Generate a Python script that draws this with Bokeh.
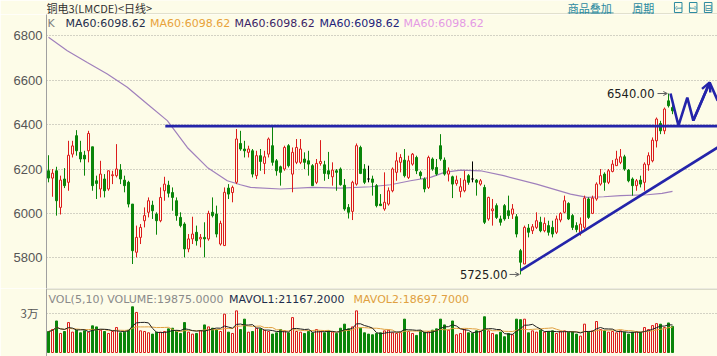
import numpy as np
import pandas as pd
from bokeh.plotting import figure
from bokeh.layouts import column
from bokeh.models import Label, Arrow, OpenHead, FixedTicker, ColumnDataSource
from bokeh.embed import file_html
from bokeh.resources import INLINE

# ---------------- data ----------------
opens = [6192, 6159, 6192, 6027, 6155, 6140, 6267, 6350, 6275, 6262,
         6282, 6300, 6147, 6110, 6155, 6110, 6170, 6170, 6196, 6150,
         6140, 6042, 5825, 5892, 5967, 6005, 6037, 5997, 5967, 6102,
         6127, 6094, 6057, 5982, 5952, 5840, 5885, 5915, 5885, 5892,
         5885, 6005, 5997, 5862, 5855, 6114, 6094, 6140, 6315, 6290,
         6275, 6282, 6170, 6260, 6225, 6267, 6305, 6237, 6210, 6200,
         6305, 6177, 6230, 6230, 6245, 6237, 6215, 6140, 6225, 6219,
         6192, 6165, 6192, 6200, 6127, 6027, 6009, 6132, 6297, 6200,
         6155, 6155, 6125, 6042, 6020, 6042, 6102, 6185, 6230, 6240,
         6162, 6222, 6252, 6185, 6155, 6117, 6245, 6207, 6305, 6240,
         6177, 6165, 6135, 6099, 6102, 6170, 6155, 6150, 6132, 6117,
         5975, 6012, 6035, 5975, 6035, 6012, 5997, 5985, 5832, 5772,
         5934, 5922, 5937, 5960, 5922, 5945, 5937, 5915, 5970, 6005,
         6045, 5990, 5945, 5915, 5937, 6065, 6000, 6065, 6132, 6177,
         6140, 6189, 6215, 6230, 6255, 6195, 6155, 6125, 6150, 6140,
         6219, 6237, 6327, 6405, 6372, 6507, 6477]
closes = [6159, 6181, 6057, 6150, 6125, 6262, 6304, 6282, 6245, 6245,
          6360, 6125, 6135, 6177, 6102, 6192, 6174, 6200, 6155, 6125,
          6042, 5832, 5892, 5937, 5990, 6057, 6012, 5967, 6072, 6132,
          6091, 6072, 5990, 5945, 5840, 5885, 5907, 5877, 5892, 5885,
          6000, 5990, 5907, 5955, 6095, 6087, 6117, 6335, 6290, 6282,
          6290, 6177, 6260, 6234, 6255, 6335, 6230, 6192, 6185, 6297,
          6215, 6275, 6297, 6290, 6230, 6222, 6125, 6225, 6234, 6180,
          6177, 6195, 6185, 6129, 6020, 6005, 6140, 6305, 6180, 6140,
          6155, 6140, 6035, 6035, 6050, 6102, 6200, 6237, 6252, 6170,
          6237, 6267, 6192, 6170, 6110, 6252, 6200, 6177, 6245, 6177,
          6192, 6132, 6150, 6120, 6150, 6140, 6155, 6140, 6147, 5960,
          6072, 6020, 5982, 5960, 5975, 5990, 6020, 5907, 5780, 5937,
          5915, 5940, 5967, 5922, 5955, 5915, 5907, 5975, 6000, 6057,
          5975, 5937, 5927, 5952, 6069, 5982, 6069, 6132, 6170, 6140,
          6192, 6222, 6245, 6255, 6200, 6147, 6125, 6147, 6132, 6222,
          6260, 6330, 6425, 6372, 6470, 6485, 6462]
highs = [6262, 6200, 6210, 6170, 6204, 6327, 6327, 6375, 6327, 6282,
         6372, 6300, 6170, 6237, 6177, 6192, 6192, 6312, 6222, 6170,
         6147, 6042, 5945, 5952, 6027, 6072, 6057, 6005, 6117, 6165,
         6147, 6117, 6072, 6005, 5960, 5907, 5985, 5945, 5907, 5960,
         6012, 6072, 6035, 5967, 6117, 6132, 6125, 6380, 6372, 6327,
         6305, 6290, 6282, 6290, 6282, 6342, 6395, 6245, 6215, 6305,
         6312, 6297, 6335, 6335, 6275, 6282, 6222, 6245, 6330, 6237,
         6277, 6230, 6200, 6207, 6155, 6042, 6147, 6315, 6305, 6222,
         6215, 6170, 6132, 6087, 6185, 6117, 6207, 6275, 6267, 6290,
         6260, 6272, 6260, 6192, 6162, 6260, 6252, 6245, 6357, 6252,
         6207, 6170, 6170, 6159, 6192, 6177, 6234, 6155, 6155, 6129,
         6075, 6065, 6045, 5990, 6042, 6080, 6042, 5997, 5840, 5945,
         5952, 5952, 6005, 5985, 5982, 5967, 5967, 5990, 6005, 6080,
         6050, 5997, 5960, 5982, 6080, 6072, 6080, 6140, 6200, 6185,
         6200, 6240, 6282, 6290, 6264, 6200, 6162, 6155, 6170, 6230,
         6275, 6342, 6432, 6417, 6477, 6540, 6492]
lows = [6140, 6075, 5990, 5995, 6114, 6102, 6252, 6260, 6230, 6170,
        6230, 6102, 6065, 6072, 6072, 6102, 6132, 6162, 6132, 6095,
        6027, 5772, 5802, 5862, 5937, 5982, 5975, 5904, 5960, 6057,
        6072, 6012, 5967, 5937, 5802, 5825, 5862, 5855, 5847, 5802,
        5877, 5982, 5892, 5855, 5855, 6065, 6050, 6132, 6282, 6252,
        6252, 6162, 6155, 6192, 6177, 6252, 6215, 6170, 6125, 6192,
        6207, 6095, 6222, 6222, 6200, 6170, 6125, 6132, 6215, 6147,
        6155, 6125, 6102, 6125, 6012, 5977, 5970, 6125, 6177, 6132,
        6140, 6080, 6027, 6035, 6012, 6035, 6095, 6147, 6185, 6162,
        6155, 6215, 6177, 6155, 6095, 6110, 6192, 6170, 6237, 6170,
        6144, 6069, 6125, 6072, 6095, 6129, 6140, 6080, 6125, 5952,
        5967, 5945, 5975, 5945, 5967, 5975, 5975, 5892, 5725, 5772,
        5892, 5907, 5930, 5915, 5915, 5900, 5892, 5907, 5960, 6000,
        5970, 5925, 5915, 5900, 5930, 5975, 5997, 6057, 6125, 6102,
        6132, 6185, 6215, 6222, 6192, 6140, 6080, 6102, 6117, 6102,
        6192, 6230, 6297, 6357, 6357, 6477, 6447]
volumes = [16000, 17500, 24000, 14500, 16000, 22800, 15500, 17000, 15000, 16500,
           15500, 20300, 19500, 17000, 16000, 14500, 16000, 19000, 15000, 15500,
           17000, 34800, 30500, 16500, 16000, 15000, 14000, 15500, 15500, 16000,
           18000, 18500, 16500, 14500, 22800, 15500, 14000, 14500, 16500, 21000,
           19500, 18500, 17500, 16000, 29200, 15500, 14500, 31700, 17500, 25400,
           15500, 16000, 18500, 18000, 17000, 16000, 14000, 15000, 17500, 16500,
           15000, 26600, 16000, 15500, 14500, 16000, 15000, 17500, 16000, 15000,
           16500, 15500, 14500, 18500, 21600, 18000, 19500, 31700, 18500, 15000,
           14000, 13500, 14500, 15000, 16500, 17000, 15000, 14500, 15500, 25400,
           16000, 14500, 13000, 16500, 15500, 16000, 17000, 18000, 25400, 21000,
           17000, 24000, 13500, 14500, 17500, 15000, 14500, 16500, 16000, 27200,
           16500, 14500, 13500, 15500, 12000, 14500, 13500, 25400, 25000, 25400,
           15000, 16500, 15500, 17000, 15500, 16000, 16500, 14500, 16000, 16500,
           15500, 16000, 14000, 12500, 21600, 16000, 16500, 23600, 17500, 16500,
           15500, 16000, 15000, 16500, 15500, 14000, 15500, 16000, 15500, 19000,
           17500, 20500, 22000, 21500, 19000, 22500, 19875]

# MA60 line read at sample candles
ma60_idx = [0, 4.7, 9.7, 14.7, 19.7, 24.7, 29.7, 34.7, 39.7, 44.7, 48, 50.5, 58, 66,
            73, 80.5, 85.5, 90.5, 95.5, 99, 103, 108, 113.8, 122, 130.5, 134.7,
            138.8, 143, 149.7, 153.4, 156]
ma60_val = [6793, 6733, 6680, 6628, 6568, 6493, 6418, 6297, 6207, 6147, 6129, 6117,
            6110, 6117, 6114, 6120, 6129, 6147, 6162, 6185, 6195, 6192, 6170, 6132,
            6087, 6072, 6075, 6080, 6084, 6090, 6099]

price_ticks = [5800, 6000, 6200, 6400, 6600, 6800]
vol_ticks = [30000]

# hand-drawn lines on the chart (candle index, price)
res_x = [29.2, 167.3]
res_y = [6393, 6393]
sup_x = [118.0, 167.3]
sup_y = [5743, 6297]
zig_x = [155.5, 157.5, 159.7, 161.2, 165.3, 167.3]
zig_y = [6540, 6395, 6522, 6418, 6590, 6508]

hi_label = "6540.00"
lo_label = "5725.00"
hi_idx, hi_val = 155, 6540
lo_idx, lo_val = 118, 5725

# ---------------- geometry ----------------
BG = "#fdfce8"
RED = "#dc1c1c"
GREEN = "#0a850a"
LINEBLUE = "#2424aa"
LINK = "#2c8aa0"
X0_PX, DX_PX = 48.0, 4.0
P0, P0_PY, PPU = 6000.0, 212.9, 0.222


def X(px):
    return (px - X0_PX) / DX_PX


def Y(py):
    return P0 + (P0_PY - py) / PPU


n = len(closes)
idx = np.arange(n)
o = np.array(opens, float)
c = np.array(closes, float)
col = [RED if cc > oo else (GREEN if cc < oo else "#000000") for oo, cc in zip(o, c)]
fill = [BG if cc > oo else (GREEN if cc < oo else "#000000") for oo, cc in zip(o, c)]
vcol = [RED if cc > oo else GREEN for oo, cc in zip(o, c)]
vfill = [BG if cc > oo else GREEN for oo, cc in zip(o, c)]
src = ColumnDataSource(dict(x=idx, h=highs, l=lows, top=np.maximum(o, c),
                            bottom=np.minimum(o, c), color=col, fill=fill,
                            vcolor=vcol, vfill=vfill, vol=volumes))


def lab(fig, x, y, text, color, size="11px", font="DejaVu Sans", align="left", **kw):
    fig.add_layout(Label(x=x, y=y, text=text, text_color=color, text_font=font,
                         text_font_size=size, text_align=align, text_baseline="middle", **kw))


# ---------------- header strip (pixel coordinates) ----------------
h = figure(width=717, height=14, x_range=(0, 717), y_range=(14, 0),
           output_backend="svg", toolbar_location=None, x_axis_location=None,
           y_axis_location=None, min_border_left=0, min_border_right=0,
           min_border_top=0, min_border_bottom=0,
           background_fill_color=BG, border_fill_color=BG, outline_line_color=None)
h.xgrid.visible = False
h.ygrid.visible = False
lab(h, 0, 7, "铜电3(LMCDE)<日线>", "#303030", size="11px", font="Noto Sans CJK SC")
lab(h, 557, 7, "商品叠加", LINK, size="11px", font="Noto Sans CJK SC")
lab(h, 626, 7, "周期", LINK, size="11px", font="Noto Sans CJK SC")
for px, t in [(671, "⇦"), (687, "⇨"), (703, "⊟")]:
    lab(h, px, 7, t, LINK, size="9px", border_line_color=LINK)
h.line([557, 606], [12.5, 12.5], line_color=LINK, line_width=1)
h.line([626, 649], [12.5, 12.5], line_color=LINK, line_width=1)
h.line([0, 717], [13.5, 13.5], line_color="#c4c4b4", line_width=1)

# ---------------- price panel ----------------
p = figure(width=717, height=274, x_range=(X(46), X(717)), y_range=(Y(288), Y(14)),
           output_backend="svg", toolbar_location=None, x_axis_location=None,
           min_border_left=46, min_border_right=0, min_border_top=0, min_border_bottom=0,
           background_fill_color=BG, border_fill_color=BG, outline_line_color=None)
p.yaxis.ticker = FixedTicker(ticks=price_ticks)
p.yaxis.axis_line_color = "#a0a0a0"
p.yaxis.major_tick_line_color = None
p.yaxis.minor_tick_line_color = None
p.yaxis.major_tick_out = 0
p.yaxis.major_label_standoff = 4
p.yaxis.major_label_text_font = "Liberation Sans"
p.yaxis.major_label_text_font_size = "13px"
p.yaxis.major_label_text_color = "#555555"
p.xgrid.visible = False
p.ygrid.ticker = FixedTicker(ticks=price_ticks)
p.ygrid.grid_line_color = "#a8a8a0"
p.ygrid.grid_line_dash = "1 2"

# MA60
p.line(ma60_idx, ma60_val, line_color="#a080bc", line_width=1.2)

# candles
p.segment(x0="x", y0="h", x1="x", y1="l", line_color="color", line_width=1, source=src)
p.vbar(x="x", width=0.5, top="top", bottom="bottom", fill_color="fill",
       line_color="color", line_width=1, source=src)

# drawn lines
p.line(res_x, res_y, line_color=LINEBLUE, line_width=2.6)
p.line(sup_x, sup_y, line_color=LINEBLUE, line_width=2.6)
p.line(zig_x, zig_y, line_color=LINEBLUE, line_width=2.6)
p.add_layout(Arrow(end=OpenHead(size=9, line_color=LINEBLUE, line_width=2.4),
                   x_start=zig_x[3], y_start=zig_y[3], x_end=zig_x[4], y_end=zig_y[4],
                   line_color=LINEBLUE, line_width=2.6))

# high / low annotations
lab(p, X(654), hi_val, hi_label, "#202020", size="11.5px", align="right")
p.add_layout(Arrow(end=OpenHead(size=4, line_color="#606060", line_width=1),
                   x_start=X(657), y_start=hi_val, x_end=hi_idx - 0.3, y_end=hi_val,
                   line_color="#606060", line_width=1))
lab(p, X(507), lo_val, lo_label, "#202020", size="11.5px", align="right")
p.add_layout(Arrow(end=OpenHead(size=4, line_color="#606060", line_width=1),
                   x_start=X(509), y_start=lo_val, x_end=lo_idx - 0.3, y_end=lo_val,
                   line_color="#606060", line_width=1))

lab(p, X(47), Y(23), "K", "#808080")
ma_texts = ["MA60:6098.62"] * 5
ma_cols = ["#1f2d4d", "#e8a23a", "#3b1f66", "#22227a", "#e49ae4"]
ma_px = [65, 149.5, 234, 319, 403]
for t, cc, px in zip(ma_texts, ma_cols, ma_px):
    lab(p, X(px), Y(23), t, cc)

# ---------------- volume panel ----------------
VPP = 30000 / 39.4   # volume units per pixel
V0_PY = 64.0          # local pixel of zero volume


def VY(py):
    return (V0_PY - py) * VPP


v = figure(width=717, height=68, x_range=p.x_range, y_range=(VY(68), VY(0)),
           output_backend="svg", toolbar_location=None, x_axis_location=None,
           min_border_left=46, min_border_right=0, min_border_top=0, min_border_bottom=0,
           background_fill_color=BG, border_fill_color=BG, outline_line_color=None)
v.yaxis.ticker = FixedTicker(ticks=vol_ticks)
v.yaxis.major_label_overrides = {30000: "3万"}
v.yaxis.axis_line_color = "#a0a0a0"
v.yaxis.major_tick_line_color = None
v.yaxis.minor_tick_line_color = None
v.yaxis.major_tick_out = 0
v.yaxis.major_label_standoff = 8
v.yaxis.major_label_text_font = "Noto Sans CJK SC"
v.yaxis.major_label_text_font_size = "11.5px"
v.yaxis.major_label_text_color = "#555555"
v.xgrid.visible = False
v.ygrid.ticker = FixedTicker(ticks=vol_ticks)
v.ygrid.grid_line_color = "#a8a8a0"
v.ygrid.grid_line_dash = "1 2"

v.vbar(x="x", width=0.5, top="vol", bottom=0, fill_color="vfill", line_color="vcolor",
       line_width=1, source=src)
vs = pd.Series(volumes, dtype=float)
mavol1 = vs.rolling(5, min_periods=1).mean().to_numpy()
mavol2 = vs.rolling(10, min_periods=1).mean().to_numpy()
v.line(idx, mavol2, line_color="#e0a040", line_width=1)
v.line(idx, mavol1, line_color="#202020", line_width=1)

v.add_layout(Arrow(end=None, x_start=X(0), y_start=VY(0.5), x_end=X(717), y_end=VY(0.5),
                   line_color="#b8b8a8", line_width=1))
lab(v, X(48), VY(11), "VOL(5,10) VOLUME:19875.0000", "#8a8a8a")
lab(v, X(228.5), VY(11), "MAVOL1:21167.2000", "#1f2d4d")
lab(v, X(353), VY(11), "MAVOL2:18697.7000", "#e0a040")

layout = column(h, p, v, spacing=0)
open("out.html", "w").write(file_html(layout, INLINE))
